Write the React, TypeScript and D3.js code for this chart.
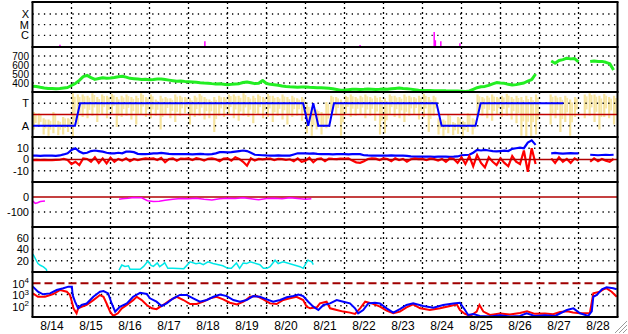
import React from 'react';
import * as d3 from 'd3';

// ---------- time axis (days since 8/14 00:00 UT) ----------
const dayLabels = ['8/14','8/15','8/16','8/17','8/18','8/19','8/20','8/21','8/22','8/23','8/24','8/25','8/26','8/27','8/28'];
const DAYS = 15;

// ---------- panel 1: X-ray flux ----------
const xrayTickLabels = ['X', 'M', 'C'];
const xrayTickValues = [1e-4, 1e-5, 1e-6];
const xrayTimes = [0.705, 4.42, 8.4, 10.3, 10.33, 10.47, 10.96];
const xrayFlux = [1.3e-7, 2.8e-7, 1.2e-7, 2.0e-6, 3.5e-7, 2.8e-7, 1.8e-7];

// ---------- panel 2: solar wind speed (0.1 day steps) ----------
const speedTickValues = [700, 600, 500, 400];
const speedStep = 0.1;
const speed: (number | null)[] = [
  365, 360, 352, 345, 340, 338, 336, 340, 345, 350,
  372, 395, 430, 470, 485, 460, 440, 450, 458, 452,
  456, 462, 470, 474, 465, 452, 448, 444, 440, 442,
  437, 440, 445, 444, 438, 432, 426, 419, 422, 418,
  415, 412, 408, 403, 400, 398, 393, 389, 391, 386,
  381, 385, 390, 393, 405, 411, 402, 393, 398, 428,
  395, 385, 380, 374, 367, 362, 358, 356, 354, 356,
  356, 352, 350, 348, 346, 344, 341, 336, 328, 320,
  322, 326, 330, 331, 328, 330, 333, 331, 329, 330,
  332, 330, 336, 340, 344, 340, 337, 332, 326, 320,
  318, 317, 316, 315, 314, 315, 313, 312, 311, 310,
  309, 306, 312, 330, 348, 358, 362, 374, 390, 405,
  400, 396, 385, 378, 382, 392, 400, 420, 438, 500,
  null, null, null, 645, 620, 650, 660, 676, 668, 672,
  635, null, null, 638, 645, 638, 640, 630, 615, 545,
];

// ---------- panel 3: IMF angle & sector ----------
const sectorTickLabels = ['T', 'A'];
const sectorTickValues = [270, 90];
const phiStep = 0.125;
const phiLo: (number | null)[] = [
  60, 80,
  20, 10, 30, 15, 20, 40,
  0, 100,
  160, 150, 170, 120, 180, 150, 190, 80, 160, 170, 140, 100, 180,
  160, 150, 170, 60, 180, 150, 120, 170, 190, 100, 160, 170, 140, 150, 40, 170, 160, 180,
  150, 130, 170, 160, 110, 180, 150, 160, 120, 170, 140, 100, 160, 170, 130,
  30, 10, 60, 20, 70,
  200, 180, 10, 190, 160, 170, 180,
  150, 170, 130, 20, 30, 180, 160, 150, 120, 170, 180, 140, 160, 40, 170,
  20, 10, 30, 15, 25, 10, 40, 20,
  160, 170, 150, 130, 180, 160, 170, 140, 110, 10, 0,
  0, 20,
  null, null,
  100, 150, 40, 120, 10, 160,
  null, 150,
  170, 120, 60, 160, 150, 100,
];
const phiHi: (number | null)[] = [
  200, 190,
  150, 140, 200, 130, 160, 150,
  350, 340,
  340, 330, 350, 320, 340, 330, 345, 320, 330, 340, 320, 330, 350,
  320, 340, 300, 330, 320, 310, 340, 330, 320, 310, 330, 345, 320, 300, 320, 330, 320, 340,
  340, 330, 350, 320, 330, 340, 320, 345, 330, 320, 340, 320, 330, 310, 320,
  260, 240, 220, 200, 280,
  330, 320, 300, 330, 340, 320, 330,
  340, 320, 330, 320, 310, 340, 330, 320, 340, 330, 320, 330, 345, 320, 330,
  150, 140, 180, 120, 160, 130, 190, 150,
  340, 320, 330, 340, 320, 330, 345, 320, 330, 320, 330,
  320, 340,
  null, null,
  340, 330, 320, 330, 300, 320,
  null, 340,
  350, 340, 330, 345, 320, 330,
];
const sectorTimes = [0, 1.09, 1.22, 6.94, 7.07, 7.2, 7.33, 7.61, 7.73, 10.36, 10.49, 11.36, 11.49, 13.61];
const sectorValues = [90, 90, 270, 270, 90, 270, 90, 90, 270, 270, 90, 90, 270, 270];

// ---------- panel 4: Bt (blue) and Bz (red), 0.1 day steps ----------
const bTickValues = [10, 0, -10];
const bStep = 0.1;
const bt: (number | null)[] = [
  3.5, 3.4, 3.3, 3.4, 3.5, 3.4, 3.3, 3.6, 4.5, 5.5,
  8.5, 10, 7, 5.5, 6, 7.5, 8, 7.5, 7, 6,
  5.5, 5.5, 6, 5.5, 7, 7, 6.5, 5, 4.7, 4.7,
  5, 5.5, 5.5, 5.8, 5.5, 5, 4.8, 4.7, 4.7, 4.8,
  4.7, 4.6, 4.8, 5, 4.7, 4.6, 4.8, 5.5, 6.5, 6.5,
  6.3, 6.5, 7, 7.5, 8, 7.5, 6, 4.2, 4, 3.8,
  3.6, 3.5, 3.5, 3.6, 3.4, 3.5, 3.5, 4.5, 5.5, 5.5,
  5.5, 5.2, 5.5, 5, 4.7, 4.8, 4.7, 4.6, 4.8, 4.7,
  4.7, 4.6, 4.8, 4.7, 4.7, 3.8, 3.6, 3.5, 3.4, 3.5,
  3.5, 3.4, 3.6, 3.5, 3.5, 3.4, 3.3, 2.8, 2.5, 2.5,
  2.5, 2.6, 2.5, 2.4, 2.6, 2.5, 2.6, 2.4, 2.5, 2.7,
  3.8, 4, 4.2, 6, 8.5, 8, 8.5, 8, 7.5, 7.2,
  7.5, 7.8, 7.5, 9.5, 10, 10.5, 10, 15, 17, 13,
  null, null, null, 5.5, 5.8, 5.5, 5.2, 5.5, 5.6, 5.4,
  5.5, null, null, 4.2, 4, 3.8, 4, 4.2, 4, 4.2,
];
const bz: (number | null)[] = [
  -0.5, -0.3, -0.5, -0.4, -0.6, -0.5, -0.3, -0.2, 0.5, -0.5,
  -4, -2, -5, 1, 0.5, -2, 2, -3, 1, -3.5,
  1.5, -2, 0.5, -1, 1, -1.5, 0.5, -0.5, 0.3, 1,
  0.5, 1, -0.5, 1.5, -2.5, 0.5, 1, -1, 0.8, 0.5,
  1, -0.5, 1.2, 0.4, -1, 0.6, 1, 0.2, -1.5, 0.8,
  1, -1, 2, 0.5, -2, -5.5, 1, -1, 0.5, 0.2,
  0.5, 0.8, -0.5, 0.5, 0.3, -0.3, 0.2, -1.5, 1, -2,
  -1, 1.5, -2.5, 0.5, 1, -1.5, 0.8, 0.5, 0.3, 0.8,
  0.5, 1, -1, -2.5, -3, -1.5, 0.5, 1, 0.8, -0.5,
  1, 0.5, -1.5, 1, -0.5, 0.5, -2, 0.2, 0.8, 0.3,
  0.5, -0.5, 0.8, 0.3, -1, 0.5, -2, 1, 0.5, -3,
  2, -4, 3, -6, 4, -3, -7, 2, -2, -5,
  1, -3, -6, 3, -2, -4, 8, -11, 10, -4,
  null, null, null, 1, -3, 2, -2, 0.5, -3, 1,
  -1, null, null, -2, 1, -1.5, 0.5, -1, -2, 0.5,
];

// ---------- panel 5: Dst (magenta) ----------
const dstTickValues = [0, -100];
const dstTimes = [0, 0.07, 0.13, 0.2, 0.32, 0.33, 2.22, 2.3, 2.45, 2.6, 2.8, 2.95, 3.1, 3.25, 3.4, 3.6, 3.8, 4.0, 4.2, 4.4, 4.6, 4.8, 5.0, 5.2, 5.4, 5.6, 5.8, 6.0, 6.2, 6.4, 6.6, 6.8, 7.0, 7.15];
const dstValues: (number | null)[] = [-25, -42, -38, -30, -27, null, -15, -12, -8, -3, -5, -25, -30, -28, -22, -15, -10, -12, -8, -15, -20, -12, -8, -10, -5, -12, -18, -10, -8, -12, -5, -10, -15, -12];

// ---------- panel 6: cyan ----------
const cyanTickValues = [60, 40, 20];
const cyanTimes = [0.01, 0.14, 0.2, 0.28, 0.35, 0.37, 0.38, 2.22, 2.29, 2.37, 2.46, 2.5, 2.76, 2.85, 2.96, 3.04, 3.1, 3.2, 3.26, 3.35, 3.39, 3.47, 3.6, 3.88, 4.04, 4.04, 4.19, 4.29, 4.38, 4.5, 4.63, 4.88, 5.01, 5.1, 5.23, 5.31, 5.4, 5.49, 5.58, 5.83, 5.92, 6.01, 6.09, 6.22, 6.3, 6.43, 6.86, 6.94, 7.06, 7.16, 7.2];
const cyanValues: (number | null)[] = [32, 15, 12, 9, 5, 2, null, 3.5, 12.4, 10, 11, 4.7, 4.7, 10, 19.5, 11.6, 10, 16, 9.5, 14, 16.6, 6.5, 6.5, 6, 18, 18, 14.8, 16, 13, 18, 15, 11, 6.5, 6.5, 16, 6.5, 16, 15, 18, 13, 6.5, 6.5, 9.5, 21, 15, 18, 9.5, 6.5, 21, 18, 13];

// ---------- panel 7: electron flux (log10) ----------
const elecTickExp = [4, 3, 2];
const elecRedT = [0.01, 0.14, 0.32, 0.53, 0.71, 0.88, 0.96, 1.01, 1.05, 1.13, 1.17, 1.26, 1.39, 1.56, 1.73, 1.82, 1.9, 1.99, 2.07, 2.19, 2.29, 2.42, 2.58, 2.67, 2.8, 2.93, 3.06, 3.18, 3.35, 3.53, 3.7, 3.87, 4.04, 4.21, 4.38, 4.55, 4.72, 4.89, 5.06, 5.24, 5.41, 5.58, 5.75, 5.92, 6.09, 6.26, 6.43, 6.6, 6.77, 6.94, 7.03, 7.12, 7.29, 7.37, 7.54, 7.63, 7.8, 7.97, 8.14, 8.27, 8.4, 8.53, 8.7, 8.91, 9.08, 9.25, 9.42, 9.59, 9.76, 9.94, 10.19, 10.45, 10.71, 10.88, 10.96, 11.09, 11.22, 11.39, 11.46, 11.56, 11.73, 11.99, 12.24, 12.5, 12.68, 12.88, 13.14, 13.35, 13.53, 13.71, 13.86, 14.04, 14.29, 14.38, 14.55, 14.64, 14.72, 14.85, 14.98];
const elecRedLog = [3.1, 2.8, 2.8, 3.04, 3.4, 3.25, 2.95, 2.36, 1.77, 1.33, 1.77, 1.9, 2.07, 2.5, 2.95, 2.8, 2.2, 1.47, 1.1, 1.33, 1.77, 2.07, 2.5, 2.8, 2.5, 2.07, 1.77, 1.7, 2.07, 2.51, 2.8, 2.51, 2.15, 2.15, 2.36, 2.66, 2.8, 2.57, 2.27, 2.12, 2.36, 2.8, 2.86, 2.57, 2.21, 2.15, 2.51, 2.66, 2.8, 2.51, 1.92, 1.77, 1.86, 2.21, 2.36, 1.77, 1.62, 1.48, 1.39, 1.27, 1.77, 2.36, 2.21, 1.92, 1.56, 1.33, 1.48, 1.86, 2.12, 1.77, 1.62, 1.77, 1.98, 2.12, 1.62, 1.27, 1.09, 1.48, 2.07, 1.48, 1.18, 1.3, 1.22, 1.35, 1.5, 1.28, 1.3, 1.25, 1.45, 1.5, 1.4, 1.33, 1.35, 3.1, 3.25, 3.46, 3.55, 3.25, 2.8];
const elecBlueT = [0.01, 0.14, 0.27, 0.45, 0.62, 0.79, 0.92, 1.01, 1.03, 1.09, 1.17, 1.26, 1.39, 1.56, 1.73, 1.82, 1.94, 2.03, 2.12, 2.24, 2.42, 2.58, 2.76, 2.93, 3.01, 3.18, 3.31, 3.44, 3.61, 3.78, 3.95, 4.12, 4.29, 4.47, 4.64, 4.81, 4.98, 5.15, 5.32, 5.49, 5.66, 5.83, 6.01, 6.17, 6.35, 6.52, 6.69, 6.82, 6.94, 7.07, 7.2, 7.33, 7.46, 7.63, 7.8, 7.97, 8.14, 8.27, 8.35, 8.48, 8.61, 8.78, 8.91, 9.08, 9.25, 9.42, 9.59, 9.76, 10.02, 10.28, 10.53, 10.79, 10.96, 11.09, 11.17, 11.3, 11.47, 11.73, 11.99, 12.24, 12.5, 12.67, 12.88, 13.14, 13.4, 13.7, 13.87, 14.04, 14.25, 14.34, 14.38, 14.47, 14.6, 14.72, 14.89, 14.98];
const elecBlueLog = [3.7, 3.25, 3.02, 3.1, 3.4, 3.55, 3.7, 3.7, 2.95, 2.36, 1.77, 2.07, 2.2, 2.8, 3.25, 3.3, 3.1, 2.2, 1.47, 1.9, 2.2, 2.8, 3.15, 3.05, 2.66, 2.36, 1.98, 2.21, 2.66, 2.96, 2.96, 2.66, 2.36, 2.51, 2.8, 3.0, 2.86, 2.51, 2.36, 2.51, 2.86, 2.8, 2.57, 2.36, 2.51, 2.75, 2.86, 3.0, 2.86, 2.36, 1.92, 1.62, 2.07, 2.21, 2.51, 2.36, 2.21, 1.77, 1.33, 1.62, 2.21, 2.27, 2.21, 1.77, 1.39, 1.7, 2.07, 2.21, 1.98, 1.83, 2.07, 2.21, 2.27, 1.62, 1.18, 1.27, 1.1, 1.05, 1.15, 1.05, 1.1, 1.33, 1.1, 1.15, 1.1, 1.62, 1.77, 1.33, 1.1, 1.5, 2.8, 2.96, 3.46, 3.64, 3.55, 3.46];

// ---------- layout ----------
const W = 628, H = 334;
const LEFT = 32.5, RIGHT = 617.5;
const TOP = 2, PH = 45, NP = 7;
const FONT = 'Liberation Sans, Arial, Helvetica, sans-serif';

type Pt = { t: number; v: number | null };
const stepSeries = (vals: (number | null)[], step: number): Pt[] => vals.map((v, i) => ({ t: i * step, v }));
const pairSeries = (ts: number[], vals: (number | null)[]): Pt[] => ts.map((t, i) => ({ t, v: vals[i] }));

export default function App() {
  const x = d3.scaleLinear().domain([0, DAYS]).range([LEFT, RIGHT]);
  const pTop = (i: number) => TOP + PH * i;
  const pBot = (i: number) => TOP + PH * (i + 1);

  const yX = d3.scaleLog().domain([Math.pow(10, -7.1), Math.pow(10, -2.87)]).range([pBot(0), pTop(0)]);
  const yV = d3.scaleLinear().domain([300, 800]).range([pBot(1), pTop(1)]);
  const yP = d3.scaleLinear().domain([0, 360]).range([pBot(2), pTop(2)]);
  const yB = d3.scaleLinear().domain([-20, 20]).range([pBot(3), pTop(3)]);
  const yD = d3.scaleLinear().domain([-200, 100]).range([pBot(4), pTop(4)]);
  const yC = d3.scaleLinear().domain([0, 80]).range([pBot(5), pTop(5)]);
  const yE = d3.scaleLog().domain([10, 1e5]).range([pBot(6), pTop(6)]);

  const mkLine = (ys: (v: number) => number) =>
    d3.line<Pt>().defined((d) => d.v !== null).x((d) => x(d.t)).y((d) => ys(d.v as number));

  const dotted = { stroke: '#000', strokeWidth: 1.3, strokeDasharray: '1.3,4.4', fill: 'none' } as const;
  const hGrid = (y: number, key: string) => (
    <line key={key} x1={LEFT} x2={RIGHT} y1={y} y2={y} {...dotted} />
  );
  const yLabel = (y: number, text: React.ReactNode, key: string, fs = 11) => (
    <text key={key} x={29} y={y} dy="0.36em" textAnchor="end" fontSize={fs} fontFamily={FONT} fill="#000">{text}</text>
  );

  const days = d3.range(1, DAYS);
  const elecRed = pairSeries(elecRedT, elecRedLog.map((v) => Math.pow(10, v)));
  const elecBlue = pairSeries(elecBlueT, elecBlueLog.map((v) => Math.pow(10, v)));
  const sector = pairSeries(sectorTimes, sectorValues);
  const binW = x(phiStep) - x(0);

  return (
    <svg width={W} height={H} style={{ position: 'absolute', left: 0, top: 0, background: '#fff' }}>
      <defs>
        {d3.range(NP).map((i) => (
          <clipPath id={`clip${i}`} key={i}>
            <rect x={LEFT} y={pTop(i)} width={RIGHT - LEFT} height={PH} />
          </clipPath>
        ))}
      </defs>
      <rect x={0} y={0} width={W} height={H} fill="#fff" />

      {/* panel 3 yellow angle data (drawn under grid) */}
      <g clipPath="url(#clip2)">
        {phiLo.map((lo, i) => {
          const hi = phiHi[i];
          if (lo === null || hi === null) return null;
          const x0 = x(i * phiStep);
          const h = yP(lo) - yP(hi);
          return (
            <g key={i} fill="#f6e39c">
              <rect x={x0 + 0.3} width={2.2} y={yP(hi)} height={h} />
              <rect x={x0 + binW * 0.5} width={1.8} y={yP(hi) + h * 0.08} height={h * 0.55} opacity={0.9} />
            </g>
          );
        })}
      </g>

      {/* vertical dotted day grid */}
      {days.map((d) => (
        <line key={`v${d}`} x1={x(d)} x2={x(d)} y1={TOP} y2={pBot(6)} stroke="#000" strokeWidth={1.3} strokeDasharray="2,3" />
      ))}

      {/* horizontal dotted grids */}
      {xrayTickValues.map((v, i) => hGrid(yX(v), `gx${i}`))}
      {speedTickValues.map((v, i) => hGrid(yV(v), `gv${i}`))}
      {sectorTickValues.map((v, i) => hGrid(yP(v), `gp${i}`))}
      {bTickValues.filter((v) => v !== 0).map((v, i) => hGrid(yB(v), `gb${i}`))}
      {dstTickValues.filter((v) => v !== 0).map((v, i) => hGrid(yD(v), `gd${i}`))}
      {cyanTickValues.map((v, i) => hGrid(yC(v), `gc${i}`))}
      {elecTickExp.filter((e) => e !== 4).map((e, i) => hGrid(yE(Math.pow(10, e)), `ge${i}`))}

      {/* panel 1: X-ray spikes */}
      <g clipPath="url(#clip0)">
        {xrayTimes.map((t, i) => (
          <line key={i} x1={x(t)} x2={x(t)} y1={pBot(0)} y2={yX(xrayFlux[i])} stroke="#ff00ff" strokeWidth={1.5} />
        ))}
      </g>

      {/* panel 2: speed */}
      <g clipPath="url(#clip1)">
        <path d={mkLine(yV)(stepSeries(speed, speedStep)) || ''} fill="none" stroke="#22ee22" strokeWidth={3} strokeLinejoin="round" />
      </g>

      {/* panel 3: midline + sector */}
      <g clipPath="url(#clip2)">
        <line x1={LEFT} x2={RIGHT} y1={yP(180)} y2={yP(180)} stroke="#c00000" strokeWidth={1.5} />
        <path d={mkLine(yP)(sector) || ''} fill="none" stroke="#0000ff" strokeWidth={2} />
      </g>

      {/* panel 4: Bt, Bz */}
      <g clipPath="url(#clip3)">
        <path d={mkLine(yB)(stepSeries(bt, bStep)) || ''} fill="none" stroke="#0000ff" strokeWidth={2.2} />
        <path d={mkLine(yB)(stepSeries(bz, bStep)) || ''} fill="none" stroke="#ff0000" strokeWidth={2.2} />
        <line x1={LEFT} x2={RIGHT} y1={yB(0)} y2={yB(0)} stroke="#b00000" strokeWidth={1.5} />
      </g>

      {/* panel 5: Dst */}
      <g clipPath="url(#clip4)">
        <line x1={LEFT} x2={RIGHT} y1={yD(0)} y2={yD(0)} stroke="#b00000" strokeWidth={1.5} />
        <path d={mkLine(yD)(pairSeries(dstTimes, dstValues)) || ''} fill="none" stroke="#ff00ff" strokeWidth={1.5} />
      </g>

      {/* panel 6: cyan */}
      <g clipPath="url(#clip5)">
        <path d={mkLine(yC)(pairSeries(cyanTimes, cyanValues)) || ''} fill="none" stroke="#00e8e8" strokeWidth={1.5} />
      </g>

      {/* panel 7: electrons */}
      <g clipPath="url(#clip6)">
        <line x1={LEFT} x2={RIGHT} y1={yE(1e4)} y2={yE(1e4)} stroke="#a00000" strokeWidth={1.8} strokeDasharray="8,4" />
        <path d={mkLine(yE)(elecRed) || ''} fill="none" stroke="#ff0000" strokeWidth={2} />
        <path d={mkLine(yE)(elecBlue) || ''} fill="none" stroke="#0000ff" strokeWidth={2} />
      </g>

      {/* panel frames */}
      {d3.range(NP + 1).map((i) => (
        <line key={`h${i}`} x1={LEFT - 1} x2={RIGHT + 1} y1={TOP + PH * i} y2={TOP + PH * i} stroke="#000" strokeWidth={2} />
      ))}
      <line x1={LEFT} x2={LEFT} y1={TOP} y2={pBot(6)} stroke="#000" strokeWidth={2} />
      <line x1={RIGHT} x2={RIGHT} y1={TOP} y2={pBot(6)} stroke="#000" strokeWidth={2} />

      {/* y labels */}
      {xrayTickValues.map((v, i) => yLabel(yX(v), xrayTickLabels[i], `lx${i}`))}
      {speedTickValues.map((v, i) => yLabel(yV(v), String(v), `lv${i}`, 10))}
      {sectorTickValues.map((v, i) => yLabel(yP(v), sectorTickLabels[i], `lp${i}`))}
      {bTickValues.map((v, i) => yLabel(yB(v), String(v), `lb${i}`))}
      {dstTickValues.map((v, i) => yLabel(yD(v), String(v), `ld${i}`))}
      {cyanTickValues.map((v, i) => yLabel(yC(v), String(v), `lc${i}`))}
      {elecTickExp.map((e, i) => (
        <text key={`le${i}`} x={29} y={yE(Math.pow(10, e))} dy="0.45em" textAnchor="end" fontSize={11} fontFamily={FONT}>
          10<tspan fontSize={8} dy="-0.6em">{e}</tspan>
        </text>
      ))}

      {/* x labels */}
      {dayLabels.map((lab, i) => (
        <text key={lab} x={x(i + 0.5)} y={330} textAnchor="middle" fontSize={12} fontFamily={FONT}>{lab}</text>
      ))}

      {/* window resize grip */}
      {[0, 4, 8].map((k) => (
        <g key={`grip${k}`}>
          <line x1={627} y1={321 + k} x2={615 + k} y2={333} stroke="#9a9a9a" strokeWidth={1} />
          <line x1={627} y1={322 + k} x2={616 + k} y2={333} stroke="#ffffff" strokeWidth={1} />
        </g>
      ))}
    </svg>
  );
}
